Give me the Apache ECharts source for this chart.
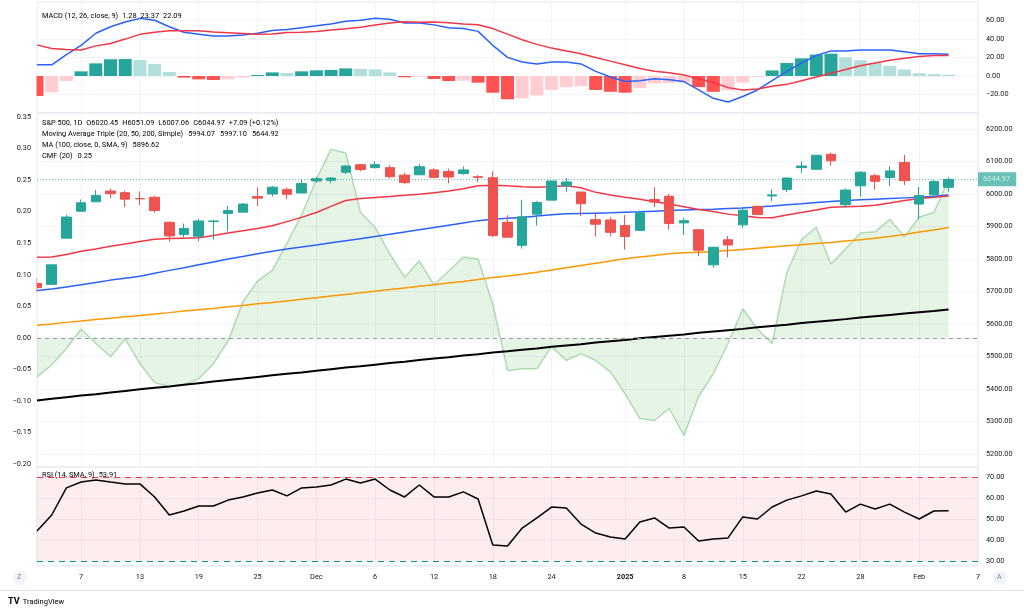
<!DOCTYPE html>
<html>
<head>
<meta charset="utf-8">
<script src="https://cdn.jsdelivr.net/npm/echarts/dist/echarts.min.js"></script>
<style>
html,body{margin:0;padding:0;background:#fff;}
#chart{width:1024px;height:609px;}
</style>
</head>
<body>
<div id="chart"></div>
<script>
// ---------- DATA ----------
const dates = [
 '2024-11-04','2024-11-05','2024-11-06','2024-11-07','2024-11-08','2024-11-11','2024-11-12','2024-11-13','2024-11-14','2024-11-15',
 '2024-11-18','2024-11-19','2024-11-20','2024-11-21','2024-11-22','2024-11-25','2024-11-26','2024-11-27','2024-11-29',
 '2024-12-02','2024-12-03','2024-12-04','2024-12-05','2024-12-06','2024-12-09','2024-12-10','2024-12-11','2024-12-12','2024-12-13',
 '2024-12-16','2024-12-17','2024-12-18','2024-12-19','2024-12-20','2024-12-23','2024-12-24','2024-12-26','2024-12-27','2024-12-30','2024-12-31',
 '2025-01-02','2025-01-03','2025-01-06','2025-01-07','2025-01-08','2025-01-10','2025-01-13','2025-01-14','2025-01-15','2025-01-16','2025-01-17',
 '2025-01-21','2025-01-22','2025-01-23','2025-01-24','2025-01-27','2025-01-28','2025-01-29','2025-01-30','2025-01-31',
 '2025-02-03','2025-02-04','2025-02-05'
];
const futureDates = ['2025-02-06','2025-02-07'];

const tickDates = ['2024-11-07','2024-11-13','2024-11-19','2024-11-25','2024-12-02','2024-12-06','2024-12-12','2024-12-18','2024-12-24',
                   '2025-01-02','2025-01-08','2025-01-15','2025-01-22','2025-01-28','2025-02-03','2025-02-07'];
const tickTexts = ['7','13','19','25','Dec','6','12','18','24','2025','8','15','22','28','Feb','7'];

const opens  = [5725,5722,5864,5947,5976,6009,6004,5986,5990,5913,5875,5870,5915,5940,5944,5992,6000,6014,6003,
                6040,6042,6067,6090,6081,6081,6058,6059,6074,6069,6063,6053,6050,5913,5842,5938,5981,6025,6006,5921,5920,
                5903,5888,5983,5993,5911,5890,5782,5859,5905,5962,5994,6014,6081,6076,6122,5967,6025,6056,6051,6097,
                5969,5998,6020.45];
const highs  = [5741,5783,5936,5983,6012,6017,6010,6008,5994,5915,5909,5924,5921,5963,5972,6020,6025,6020,6044,
                6053,6052,6089,6092,6100,6088,6065,6092,6079,6078,6085,6058,6070,5935,5982,5978,6040,6049,6006,5941,5929,
                5935,5949,6021,6000,5927,5890,5838,5871,5960,5964,6015,6051,6100,6119,6128,6017,6070,6062,6086,6120,
                6022,6043,6051.09];
const lows   = [5696,5722,5864,5947,5976,5987,5960,5966,5942,5853,5866,5855,5860,5885,5944,5963,5992,5984,6003,
                6035,6033,6061,6070,6079,6048,6030,6059,6051,6033,6059,6036,5867,5866,5832,5903,5981,6007,5932,5869,5869,
                5829,5888,5960,5890,5874,5809,5773,5805,5895,5935,5978,6006,6065,6074,6087,5958,5992,6013,6025,6028,
                5923,5988,6007.06];
const closes = [5712,5782,5929,5973,5995,6001,5984,5985,5949,5871,5894,5917,5917,5949,5969,5987,6021,5999,6032,
                6047,6049,6086,6075,6090,6053,6035,6084,6051,6052,6074,6051,5872,5867,5930,5974,6040,6037,5970,5907,5882,
                5869,5942,5975,5909,5918,5827,5836,5843,5950,5937,5997,6049,6086,6119,6102,6012,6067,6039,6071,6041,
                5995,6038,6044.97];

const ma20  = [5805,5806,5814,5824,5831,5839,5846,5854,5861,5863,5864,5865,5872,5880,5887,5894,5902,5915,5928,
               5943,5962,5980,5986,5989,5992,5996,5999,6004,6009,6016,6025,6027,6025,6022,6021,6023,6025,6019,6005,5997,
               5990,5984,5976,5969,5961,5952,5946,5938,5933,5928,5927,5935,5943,5951,5959,5961,5962,5965,5972,5980,
               5986,5990,5994.07];
const ma50  = [5703,5708,5714,5721,5728,5735,5741,5747,5756,5765,5773,5782,5791,5800,5808,5816,5824,5831,5837,
               5843,5850,5856,5862,5869,5876,5883,5890,5897,5904,5911,5918,5922,5925,5928,5932,5936,5939,5940,5941,5942,
               5944,5945,5947,5949,5951,5952,5953,5955,5957,5960,5963,5967,5970,5974,5977,5980,5982,5984,5986,5988,
               5990,5993,5997.10];
const ma200 = [5365,5370,5375,5380,5384,5389,5394,5399,5404,5408,5413,5418,5423,5428,5432,5437,5442,5447,5451,
               5456,5461,5466,5470,5475,5480,5484,5489,5494,5498,5503,5507,5512,5516,5521,5525,5530,5534,5538,5543,5547,
               5551,5556,5560,5564,5568,5573,5577,5581,5585,5590,5594,5598,5603,5607,5611,5615,5620,5624,5628,5632,
               5636,5640,5644.92];
const ma100 = [5596,5600,5605,5609,5614,5618,5622,5626,5631,5635,5640,5644,5648,5653,5657,5662,5666,5671,5676,
               5681,5686,5691,5696,5701,5706,5711,5716,5721,5726,5731,5737,5743,5748,5753,5759,5766,5773,5780,5787,5794,
               5801,5806,5811,5816,5819,5821,5823,5826,5829,5833,5837,5841,5844,5848,5851,5855,5859,5864,5869,5875,
               5883,5889,5896.62];

const cmf = [-0.062,-0.043,-0.017,0.014,-0.009,-0.030,-0.002,-0.041,-0.071,-0.077,-0.074,-0.065,-0.041,-0.005,0.057,0.090,0.107,0.150,0.195,
             0.251,0.299,0.293,0.199,0.175,0.133,0.096,0.122,0.084,0.106,0.128,0.125,0.054,-0.052,-0.049,-0.049,-0.014,-0.036,-0.025,-0.036,-0.054,
             -0.089,-0.128,-0.131,-0.112,-0.155,-0.093,-0.057,-0.009,0.046,0.014,-0.009,0.104,0.156,0.175,0.117,0.141,0.166,0.168,0.188,0.160,
             0.191,0.199,0.251];

const macdLine = [12,12,23,33,46,53,58,62,60,53,47,45,43,43,44,46,49,50,52,
                  54,56,59,60,62,61,57,57,55,52,51,48,33,20,15,13,15,15,13,5,-1,
                  -6,-5,-3,-4,-6,-15,-24,-28,-22,-15,-5,5,14,22,27,27,28,28,28,26,
                  24,24,23.37];
const signalLine = [33.5,29.5,28.4,28,32.4,35,39.7,44.8,47.1,48.7,48.8,48.6,47.3,46.6,45.8,44.9,45.1,46.8,47,
                    47.9,49.5,50.8,52.5,54.8,57.1,58.4,57.7,58.2,57.4,56,55.2,51,45,39,34,30,27,24,20,16,
                    12,8,5,3.5,1,-3,-7,-12.5,-15,-14,-11,-9,-5,-1,3,7,11,14,17,19,
                    21,22,22.09];
const macdHist = [-21.5,-17.5,-5.4,5,13.6,18,18.3,17.2,12.9,4.3,-1.8,-3.6,-4.3,-3.6,-1.8,1.1,3.9,3.2,5,
                  6.1,6.5,8.2,7.5,7.2,3.9,-1.4,-0.7,-3.2,-5.4,-5,-7.2,-18,-25,-24,-21,-15,-12,-11,-15,-17,
                  -18,-13,-8,-7.5,-7,-12,-17,-15.5,-7,-1,6,14,19,23,24,20,17,14,11,7,
                  3,2,1.28];

const rsi = [44.3,51.9,64.8,67.6,68.6,67.6,66.7,66.7,60.5,51.9,53.8,56.2,56.2,59.0,60.5,62.4,63.8,61.0,64.8,
             65.2,66.2,69.0,67.1,69.0,63.8,60.5,66.2,60.5,60.5,62.9,59.5,37.6,37.1,45.7,50.5,55.7,55.2,47.6,43.3,41.4,
             40.5,48.6,50.5,45.7,46.2,39.5,40.5,41.0,51.0,50.0,55.7,59.0,61.0,63.3,61.9,53.3,57.1,54.8,57.1,53.3,
             50.0,53.8,53.91];

// ---------- CHART ----------
const allDates = dates.concat(futureDates);
const FONT = 'Roboto, "Noto Sans", sans-serif';
const FS = 7.4;
const AFS = 7.3;
const TXT = '#131722';
const GRIDC = '#f0f3fa';
const UP = '#26a69a', DOWN = '#ef5350';

const candleData = opens.map((o, i) => [o, closes[i], lows[i], highs[i]]);
const histData = macdHist.map((v, i) => {
  const prev = i > 0 ? macdHist[i - 1] : (v < 0 ? v + 1 : v - 1);
  let c;
  if (v >= 0) c = v > prev ? '#26a69a' : '#b2dfdb';
  else c = v < prev ? '#ff5252' : '#ffcdd2';
  return { value: v, itemStyle: { color: c } };
});

function isTick(v) { return tickDates.indexOf(v) >= 0; }
function stepFmt(step, dec) {
  return function (v) {
    const k = v / step;
    if (Math.abs(k - Math.round(k)) > 1e-6) return '';
    const r = Math.round(k) * step;
    return (r < 0 ? '\u2212' : '') + Math.abs(r).toFixed(dec);
  };
}

const L = 37, R = 46;
const grids = [
  { left: L, right: R, top: 2, height: 111 },
  { left: L, right: R, top: 113, height: 354 },
  { left: L, right: R, top: 467, height: 99 }
].map(g => Object.assign(g, { show: true, borderColor: '#e0e3eb', borderWidth: 1 }));

const xAxes = [0, 1, 2].map(i => ({
  type: 'category', gridIndex: i, data: allDates, boundaryGap: false,
  axisLine: { show: false }, axisTick: { show: false },
  axisLabel: {
    show: i === 2, interval: (idx, v) => isTick(v), margin: 8,
    fontFamily: FONT, fontSize: AFS, color: TXT,
    formatter: v => { const t = tickTexts[tickDates.indexOf(v)]; return t === '2025' ? '{b|2025}' : t; },
    rich: { b: { fontWeight: 'bold', fontFamily: FONT, fontSize: AFS, color: TXT } }
  },
  splitLine: { show: true, interval: (idx, v) => isTick(v), lineStyle: { color: GRIDC, width: 1 } }
}));

const axisLbl = (fmt, margin) => ({ fontFamily: FONT, fontSize: AFS, color: TXT, margin: margin, formatter: fmt });

// pixel mapping: price 6200 at y129 (0.326 px/pt), CMF 0.35 at y117 (632.7 px/unit),
// MACD 0 at y76 (0.93 px/unit), RSI 70 at y477 (2.1 px/unit)
const yAxes = [
  { // 0 MACD
    type: 'value', gridIndex: 0, position: 'right', min: -39.8, max: 79.6, minInterval: 20, maxInterval: 20,
    axisLine: { show: false }, axisTick: { show: false },
    axisLabel: axisLbl(stepFmt(20, 2), 8),
    splitLine: { lineStyle: { color: GRIDC } }
  },
  { // 1 price
    type: 'value', gridIndex: 1, position: 'right', min: 5160.1, max: 6249.1, minInterval: 100, maxInterval: 100,
    axisLine: { show: false }, axisTick: { show: false },
    axisLabel: axisLbl(stepFmt(100, 2), 8),
    splitLine: { lineStyle: { color: GRIDC } }
  },
  { // 2 CMF
    type: 'value', gridIndex: 1, position: 'left', min: -0.2047, max: 0.3563, minInterval: 0.05, maxInterval: 0.05,
    z: 60,
    axisLine: { show: false }, axisTick: { show: false },
    axisLabel: axisLbl(stepFmt(0.05, 2), 6),
    splitLine: { show: false }
  },
  { // 3 RSI
    type: 'value', gridIndex: 2, position: 'right', min: 27.62, max: 74.76, minInterval: 10, maxInterval: 10,
    axisLine: { show: false }, axisTick: { show: false },
    axisLabel: axisLbl(stepFmt(10, 2), 8),
    splitLine: { lineStyle: { color: GRIDC } }
  }
];

const lineS = (name, data, color, width, xi, yi, z) => ({
  name, type: 'line', data, xAxisIndex: xi, yAxisIndex: yi, symbol: 'none', z: z || 3, clip: true,
  lineStyle: { color, width }, itemStyle: { color }, silent: true
});

const series = [
  { type: 'bar', name: 'Histogram', data: histData, xAxisIndex: 0, yAxisIndex: 0, barWidth: 13, z: 2, clip: true },
  lineS('MACD', macdLine, '#2962ff', 1.5, 0, 0, 3),
  lineS('Signal', signalLine, '#f23645', 1.5, 0, 0, 3),
  {
    name: 'CMF', type: 'line', data: cmf, xAxisIndex: 1, yAxisIndex: 2, symbol: 'none', z: 1, clip: true,
    lineStyle: { color: 'rgba(76,175,80,0.4)', width: 1.5 },
    areaStyle: { color: 'rgba(76,175,80,0.2)' },
    markLine: {
      silent: true, symbol: 'none', label: { show: false },
      lineStyle: { color: '#9598a1', type: [4, 4], width: 1 },
      data: [{ yAxis: 0 }]
    }
  },
  lineS('MA200', ma200, '#000000', 2, 1, 1, 3),
  lineS('MA100', ma100, '#ff9800', 1.5, 1, 1, 3),
  lineS('MA50', ma50, '#2962ff', 1.5, 1, 1, 3),
  lineS('MA20', ma20, '#f23645', 1.5, 1, 1, 3),
  {
    name: 'S&P 500', type: 'candlestick', data: candleData, xAxisIndex: 1, yAxisIndex: 1, barWidth: 10, z: 5, clip: true,
    itemStyle: { color: UP, color0: DOWN, borderColor: UP, borderColor0: DOWN, borderWidth: 1 },
    markLine: {
      silent: true, symbol: 'none',
      lineStyle: { color: UP, type: [1, 2], width: 1, opacity: 0.7 },
      label: {
        show: true, position: 'end', distance: 0, formatter: () => closes[closes.length - 1].toFixed(2),
        backgroundColor: UP, color: '#fff', fontFamily: FONT, fontSize: 7.5, padding: [3, 6, 3, 5]
      },
      data: [{ yAxis: closes[closes.length - 1] }]
    }
  },
  {
    name: 'RSI', type: 'line', data: rsi, xAxisIndex: 2, yAxisIndex: 3, symbol: 'none', z: 4, clip: true,
    lineStyle: { color: '#000', width: 1.5 },
    markArea: { silent: true, itemStyle: { color: 'rgba(242,54,69,0.09)' }, data: [[{ yAxis: 30 }, { yAxis: 70 }]] },
    markLine: {
      silent: true, symbol: 'none', label: { show: false },
      data: [
        { yAxis: 70, lineStyle: { color: '#f23645', type: [6, 5], width: 1 } },
        { yAxis: 30, lineStyle: { color: '#089981', type: [6, 5], width: 1 } }
      ]
    }
  }
];

function legend(x, y, parts) {
  let text = '', rich = {};
  parts.forEach((p, i) => {
    const k = 's' + i;
    text += '{' + k + '|' + p[0] + '}';
    rich[k] = { color: p[1], fontFamily: FONT, fontSize: FS, padding: [0, p[2] || 0, 0, 0] };
  });
  return { type: 'text', left: x, top: y, z: 100, silent: true, style: { text, rich, fontFamily: FONT, fontSize: FS } };
}

const graphics = [
  // white mask over the left scale column so the half-visible first bar is cut at the pane edge
  { type: 'rect', silent: true, z: 50, shape: { x: 0, y: 0, width: 36.5, height: 466.5 }, style: { fill: '#ffffff' } },
  legend(42, 13, [['MACD (12, 26, close, 9)', TXT, 4], ['1.28', '#89d1c8', 4], ['23.37', '#2962ff', 4], ['22.09', '#f23645']]),
  legend(42, 120, [['S&P 500, 1D', TXT, 4], ['O', TXT], ['6020.45', UP, 4], ['H', TXT], ['6051.09', UP, 4], ['L', TXT], ['6007.06', UP, 4], ['C', TXT], ['6044.97', UP, 4], ['+7.09 (+0.12%)', UP]]),
  legend(42, 131, [['Moving Average Triple (20, 50, 200, Simple)', TXT, 5], ['5994.07', '#f23645', 5], ['5997.10', '#2962ff', 5], ['5644.92', '#000']]),
  legend(42, 142, [['MA (100, close, 0, SMA, 9)', TXT, 5], ['5896.62', '#ff9800']]),
  legend(42, 153, [['CMF (20)', TXT, 5], ['0.25', '#4caf50']]),
  legend(42, 472, [['RSI (14, SMA, 9)', TXT, 4], ['53.91', TXT]]),
  { type: 'line', silent: true, shape: { x1: 0, y1: 590.5, x2: 1024, y2: 590.5 }, style: { stroke: '#e0e3eb', lineWidth: 1 } },
  { type: 'circle', silent: true, shape: { cx: 20, cy: 578, r: 7 }, style: { fill: '#f0f3fa' } },
  { type: 'text', silent: true, left: 17, top: 574, style: { text: 'Z', fontFamily: FONT, fontSize: 7, fill: '#787b86' } },
  { type: 'circle', silent: true, shape: { cx: 1000, cy: 578, r: 7 }, style: { fill: '#f0f3fa' } },
  { type: 'text', silent: true, left: 997, top: 574, style: { text: 'A', fontFamily: FONT, fontSize: 7, fill: '#787b86' } },
  { type: 'text', silent: true, left: 8, top: 596, style: { text: '{t|TV} {n|TradingView}', rich: {
      t: { fontFamily: FONT, fontSize: 9, fontWeight: 'bold', color: '#131722' },
      n: { fontFamily: FONT, fontSize: 7.5, color: '#131722' } } } }
];

const chart = echarts.init(document.getElementById('chart'), null, { renderer: 'canvas' });
chart.setOption({
  animation: false,
  backgroundColor: '#ffffff',
  grid: grids,
  xAxis: xAxes,
  yAxis: yAxes,
  series: series,
  graphic: graphics
});
</script>
</body>
</html>
